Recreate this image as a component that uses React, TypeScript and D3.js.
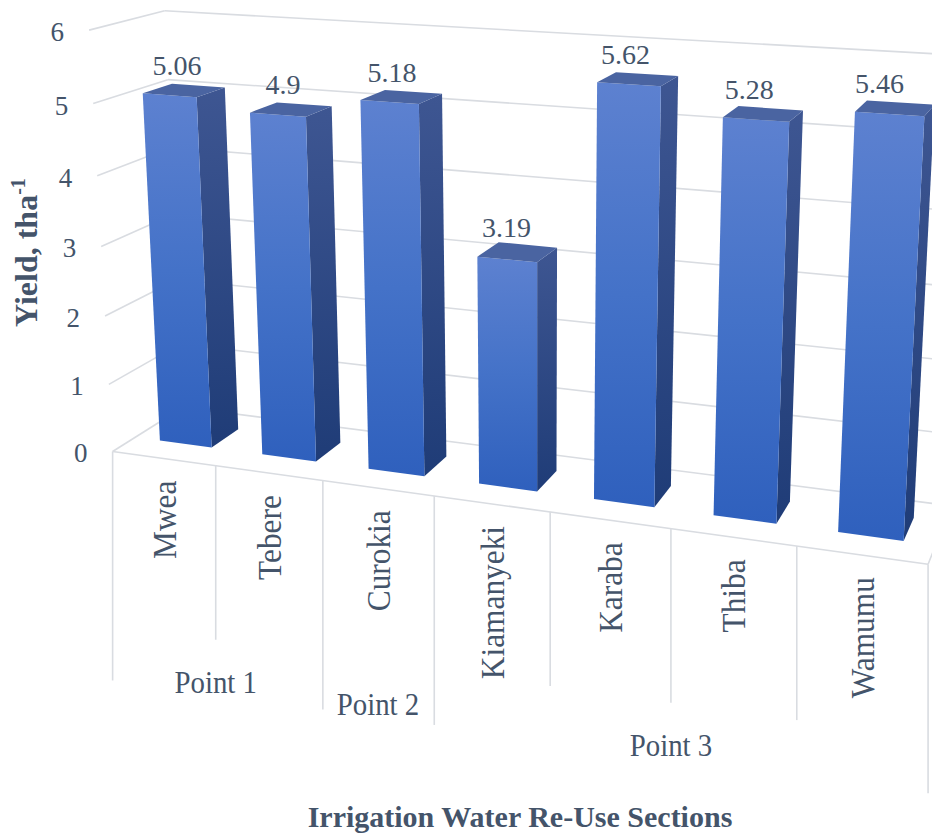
import React from "react";
import * as d3 from "d3";

// ---- data -------------------------------------------------------------
const categories = ["Mwea", "Tebere", "Curokia", "Kiamanyeki", "Karaba", "Thiba", "Wamumu"];
const yields = [5.06, 4.9, 5.18, 3.19, 5.62, 5.28, 5.46];
const groupLabels = ["Point 1", "Point 2", "Point 3"];
const groupSizes = [2, 1, 4];
const yTicks = [0, 1, 2, 3, 4, 5, 6];

// ---- 3D view ------------------------------------------------------------
// World space: X = category slot (0..7), Y = yield value, Z = depth (0 front edge, 1 back wall).
// A 3x4 perspective camera matrix maps it into normalised screen space.
const VIEW = [
  [0.2313501, -0.001330242, 0.1113503, -0.7583276],
  [0.02863648, -0.1434298, -0.09636346, 0.07397509],
  [-0.01879463, -0.008750414, 0.06537007, 1],
];
const SCREEN_CX = 466, SCREEN_CY = 417, SCREEN_SCALE = 466;

function project(X: number, Y: number, Z: number): [number, number] {
  const row = (r: number[]) => r[0] * X + r[1] * Y + r[2] * Z + r[3];
  const w = row(VIEW[2]);
  return [SCREEN_CX + SCREEN_SCALE * (row(VIEW[0]) / w), SCREEN_CY + SCREEN_SCALE * (row(VIEW[1]) / w)];
}

// ---- styling -----------------------------------------------------------
const TEXT = "#44546a";
const GRID = "#d9dce1";
const W = 932, H = 834;

const pts = (arr: [number, number][]) => arr.map((p) => p.join(",")).join(" ");

export default function App() {
  const n = categories.length;
  const x = d3.scaleBand<string>().domain(categories).range([0, n]).paddingInner(0.49).paddingOuter(0.245);
  const y = d3.scaleLinear().domain([0, 6]).range([0, 6]);
  const zFront = 0.31, zBack = 0.71, zWall = 1;

  // Side wall, back wall and floor outline
  const sideLines = yTicks.map((t) => [project(0, y(t), 0), project(0, y(t), zWall)]);
  const backLines = yTicks.map((t) => [project(0, y(t), zWall), project(n, y(t), zWall)]);
  const floorLines = [
    [project(0, 0, 0), project(n, 0, 0)],
    [project(n, 0, 0), project(n, 0, zWall)],
  ];

  // Category and group separators hanging below the floor edge
  const groupEdges = new Set<number>([0]);
  groupSizes.reduce((acc, s) => { groupEdges.add(acc + s); return acc + s; }, 0);
  const edges = d3.range(n + 1).map((i) => {
    const [ex, ey] = project(i, 0, 0);
    return { ex, ey, len: groupEdges.has(i) ? 229 : 174 };
  });

  let start = 0;
  const groups = groupLabels.map((g, k) => {
    const mid = start + groupSizes[k] / 2;
    start += groupSizes[k];
    const [gx, gy] = project(mid, 0, 0);
    return { g, gx, gy };
  });

  const bars = categories.map((c, i) => {
    const x0 = x(c)!, x1 = x0 + x.bandwidth();
    const h = y(yields[i]);
    const front: [number, number][] = [project(x0, 0, zFront), project(x1, 0, zFront), project(x1, h, zFront), project(x0, h, zFront)];
    const side: [number, number][] = [project(x1, 0, zFront), project(x1, 0, zBack), project(x1, h, zBack), project(x1, h, zFront)];
    const top: [number, number][] = [project(x0, h, zFront), project(x1, h, zFront), project(x1, h, zBack), project(x0, h, zBack)];
    const [cx, cy] = project((x0 + x1) / 2, h, (zFront + zBack) / 2);
    return { c, v: yields[i], front, side, top, lx: cx - 7 - 0.012 * (cx - 184), ly: cy - 15 };
  });

  return (
    <svg width={W} height={H} style={{ position: "absolute", left: 0, top: 0, background: "#fff" }}
      fontFamily="'Liberation Serif', 'Times New Roman', serif">
      <defs>
        <linearGradient id="front" x1="0" y1="0" x2="0" y2="1">
          <stop offset="0" stopColor="#5d81d0" />
          <stop offset="0.5" stopColor="#4472c8" />
          <stop offset="1" stopColor="#2f60bd" />
        </linearGradient>
        <linearGradient id="side" x1="0" y1="0" x2="0" y2="1">
          <stop offset="0" stopColor="#3e5692" />
          <stop offset="1" stopColor="#1f3c77" />
        </linearGradient>
      </defs>

      <g stroke={GRID} strokeWidth={1.6} fill="none">
        {[...sideLines, ...backLines, ...floorLines].map((l, k) => (
          <line key={k} x1={l[0][0]} y1={l[0][1]} x2={l[1][0]} y2={l[1][1]} />
        ))}
        {edges.map((e, k) => (
          <line key={"e" + k} x1={e.ex} y1={e.ey} x2={e.ex} y2={e.ey + e.len} />
        ))}
      </g>

      {bars.map((b) => (
        <g key={b.c}>
          <polygon points={pts(b.side)} fill="url(#side)" />
          <polygon points={pts(b.front)} fill="url(#front)" />
          <polygon points={pts(b.top)} fill="#4a64a1" />
        </g>
      ))}

      <g fill={TEXT}>
        {yTicks.map((t) => {
          const [gx, gy] = project(0, y(t), 0);
          return (
            <text key={t} x={gx - 25} y={gy + 2} fontSize={27} textAnchor="end" dominantBaseline="central">{t}</text>
          );
        })}
        {bars.map((b) => (
          <text key={b.c} x={b.lx} y={b.ly} fontSize={28} textAnchor="middle">{b.v}</text>
        ))}
        {categories.map((c, i) => {
          const mx = (edges[i].ex + edges[i + 1].ex) / 2;
          const my = (edges[i].ey + edges[i + 1].ey) / 2;
          return (
            <text key={c} transform={`translate(${mx},${my + 22}) rotate(-90) scale(0.95,1)`} fontSize={33}
              textAnchor="end" dy="0.35em">{c}</text>
          );
        })}
        {groups.map((g) => (
          <text key={g.g} transform={`translate(${g.gx},${g.gy + 227}) scale(0.9,1)`} fontSize={32} textAnchor="middle">{g.g}</text>
        ))}
        <text transform="translate(37,327) rotate(-90)" fontSize={32} fontWeight="bold">
          Yield, tha<tspan fontSize={20} dy={-12}>-1</tspan>
        </text>
        <text x={520} y={826.6} fontSize={30} fontWeight="bold" textAnchor="middle">Irrigation Water Re-Use Sections</text>
      </g>
    </svg>
  );
}
